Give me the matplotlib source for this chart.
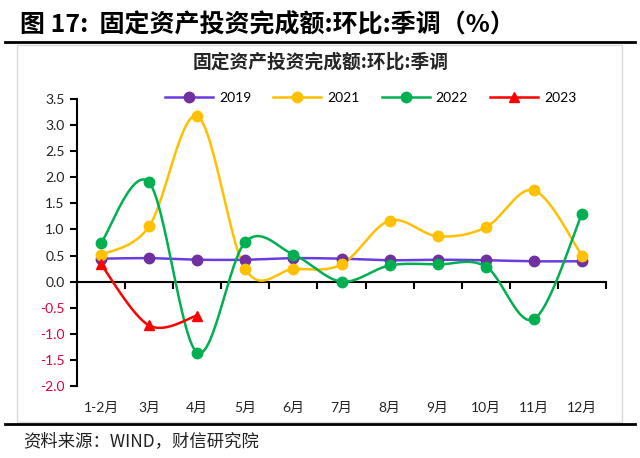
import numpy as np
import matplotlib
matplotlib.use("Agg")
import matplotlib.pyplot as plt
from matplotlib.lines import Line2D
from matplotlib.patches import Rectangle
import matplotlib.transforms as mtransforms

plt.rcParams['font.family'] = ['Lato', 'Noto Sans CJK SC', 'DejaVu Sans']

categories = ['1-2月', '3月', '4月', '5月', '6月', '7月', '8月', '9月', '10月', '11月', '12月']
s2019 = [0.44, 0.45, 0.42, 0.42, 0.45, 0.44, 0.41, 0.42, 0.41, 0.39, 0.39]
s2021 = [0.51, 1.06, 3.17, 0.24, 0.24, 0.33, 1.17, 0.87, 1.04, 1.75, 0.50]
s2022 = [0.74, 1.90, -1.36, 0.76, 0.52, 0.00, 0.31, 0.33, 0.29, -0.72, 1.30]
s2023 = [0.33, -0.84, -0.65]
yticks = [3.5, 3.0, 2.5, 2.0, 1.5, 1.0, 0.5, 0.0, -0.5, -1.0, -1.5, -2.0]

series = [
    ('2019', s2019, '#6A3BE0', '#7030A0', 'o'),
    ('2021', s2021, '#FFC000', '#FFC000', 'o'),
    ('2022', s2022, '#00B050', '#00B050', 'o'),
    ('2023', s2023, '#FF0000', '#FF0000', '^'),
]


def smooth(xs, ys, n=30):
    """Catmull-Rom style Bezier smoothing (Excel-like)."""
    xs = np.asarray(xs, float)
    ys = np.asarray(ys, float)
    pts = np.column_stack([xs, ys])
    m = len(pts)
    if m < 3:
        return xs, ys
    out = []
    for i in range(m - 1):
        p0 = pts[i - 1] if i > 0 else pts[i]
        p1 = pts[i]
        p2 = pts[i + 1]
        p3 = pts[i + 2] if i + 2 < m else pts[i + 1]
        c1 = p1 + (p2 - p0) / 6.0
        c2 = p2 - (p3 - p1) / 6.0
        t = np.linspace(0, 1, n)[:, None]
        b = ((1 - t) ** 3) * p1 + 3 * ((1 - t) ** 2) * t * c1 + 3 * (1 - t) * t ** 2 * c2 + t ** 3 * p2
        out.append(b if i == 0 else b[1:])
    out = np.vstack(out)
    return out[:, 0], out[:, 1]


W, H = 640, 458
fig = plt.figure(figsize=(6.4, 4.58), dpi=100)

# header
fig.text(20 / W, 1 - 25 / H, '图 17:  固定资产投资完成额:环比:季调（%）',
         fontsize=18, fontweight='bold', va='center', ha='left',
         family=['Noto Sans CJK SC', 'DejaVu Sans'])
fig.add_artist(Line2D([5 / W, 635 / W], [1 - 42 / H, 1 - 42 / H], color='black', lw=2,
                      transform=fig.transFigure))
fig.add_artist(Line2D([5 / W, 635 / W], [1 - 424 / H, 1 - 424 / H], color='black', lw=2,
                      transform=fig.transFigure))
fig.add_artist(Rectangle((17 / W, 1 - 422 / H), 605 / W, 377 / H, fill=False,
                         edgecolor='#D9D9D9', lw=1, transform=fig.transFigure))
fig.text(321 / W, 1 - 62 / H, '固定资产投资完成额:环比:季调', fontsize=13.5, fontweight='bold',
         ha='center', va='center', family=['Noto Sans CJK SC', 'DejaVu Sans'], color='#262626')
fig.text(23 / W, 1 - 441 / H, '资料来源：WIND，财信研究院', fontsize=12.5, style='italic',
         ha='left', va='center', family=['Noto Sans CJK SC', 'DejaVu Sans'], color='#222222')

ax = fig.add_axes([77 / W, 1 - 386 / H, 529 / W, 287 / H])
ax.set_xlim(0, len(categories))
ax.set_ylim(-2.0, 3.5)

x = np.arange(len(categories)) + 0.5
handles = []
for name, vals, lc, mc, mk in series:
    xs = x[:len(vals)]
    sx, sy = smooth(xs, vals)
    ax.plot(sx, sy, color=lc, lw=1.8, zorder=3, clip_on=False)
    ax.plot(xs, vals, linestyle='none', marker=mk, markersize=7.5, color=mc, zorder=4, clip_on=False)
    handles.append(Line2D([0], [0], color=lc, lw=1.8, marker=mk, markersize=7.5,
                          markerfacecolor=mc, markeredgecolor=mc))

fig.legend(handles, [s[0] for s in series], ncol=4, loc='center left',
           bbox_to_anchor=(165 / W, 1 - 98 / H), bbox_transform=fig.transFigure,
           frameon=False, fontsize=10, handlelength=3.45, columnspacing=1.6,
           handletextpad=0.43, borderpad=0, borderaxespad=0)

for side in ['top', 'right']:
    ax.spines[side].set_visible(False)
ax.spines['bottom'].set_position(('data', 0))
ax.spines['left'].set_linewidth(1.5)
ax.spines['bottom'].set_linewidth(1.5)
ax.set_xticks(np.arange(len(categories) + 1))
ax.set_xticklabels([])
ax.tick_params(axis='x', direction='out', length=5, width=1.5)
ax.set_yticks(yticks)
ax.set_yticklabels([f'{v:.1f}' for v in yticks], fontsize=10)
ax.tick_params(axis='y', direction='out', length=5, width=1.5, pad=4)
for lbl, v in zip(ax.get_yticklabels(), yticks):
    lbl.set_color('#E0003A' if v < 0 else '#222222')

trans = mtransforms.blended_transform_factory(ax.transData, ax.transAxes)
for xi, c in zip(x, categories):
    ax.text(xi, -0.075, c, transform=trans, ha='center', va='center', fontsize=10, color='#222222')

fig.savefig('out.png', dpi=100)
